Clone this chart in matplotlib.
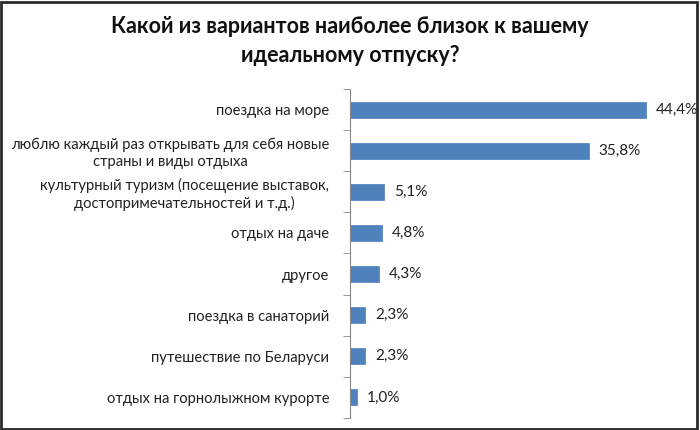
import numpy as np
import matplotlib.pyplot as plt
from matplotlib.patches import Rectangle

title = 'Какой из вариантов наиболее близок к вашему\nидеальному отпуску?'
categories = [
    'поездка на море',
    'люблю каждый раз открывать для себя новые\nстраны и виды отдыха',
    'культурный туризм (посещение выставок,\nдостопримечательностей и т.д.)',
    'отдых на даче',
    'другое',
    'поездка в санаторий',
    'путешествие по Беларуси',
    'отдых на горнолыжном курорте',
]
values = [44.4, 35.8, 5.1, 4.8, 4.3, 2.3, 2.3, 1.0]
value_labels = ['44,4%', '35,8%', '5,1%', '4,8%', '4,3%', '2,3%', '2,3%', '1,0%']

plt.rcParams['font.family'] = ['Lato', 'DejaVu Sans']

fig = plt.figure(figsize=(7, 4.3), dpi=100)
ax = fig.add_axes([0.5, 0.028, 0.476, 0.765])

y = np.arange(len(categories))
ax.barh(y, values, height=0.39, color='#4f81bd', edgecolor='#5a8ac6', linewidth=0.6)
for yi, v, s in zip(y, values, value_labels):
    ax.text(v + 1.5, yi, s, va='center', ha='left', fontsize=11, color='#222222')

ax.set_ylim(len(categories) - 0.5, -0.5)
ax.set_xlim(0, 50)
ax.set_yticks(y)
ax.set_yticklabels(categories, fontsize=10.6, color='#222222', linespacing=1.25)
for lab in ax.get_yticklabels():
    lab.set_multialignment('center')
ax.set_yticks(np.arange(len(categories) + 1) - 0.5, minor=True)
ax.tick_params(axis='y', which='major', length=0, pad=15)
ax.tick_params(axis='y', which='minor', length=5, color='#868686', direction='out')
ax.set_xticks([])
for side in ['top', 'right', 'bottom']:
    ax.spines[side].set_visible(False)
ax.spines['left'].set_color('#868686')

fig.text(0.5, 0.905, title, ha='center', va='center', fontsize=15.5, fontweight='bold',
         linespacing=1.5, color='#111111')

# рамка вокруг рисунка
fig.patches.append(Rectangle((0.002, 0.003), 0.994, 0.993, transform=fig.transFigure,
                             fill=False, edgecolor='#2a2a2a', linewidth=2, zorder=1))

fig.savefig('out.png', dpi=100)
